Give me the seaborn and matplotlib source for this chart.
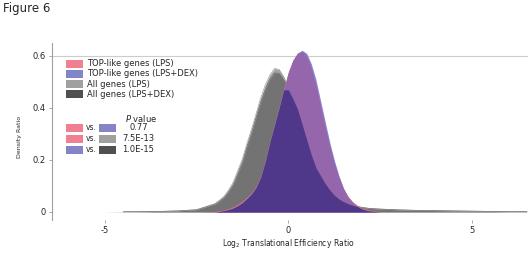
import numpy as np
import pandas as pd
import seaborn as sns
import matplotlib.pyplot as plt
from matplotlib.patches import Rectangle

# density curves (x = log2 TE ratio)
x_ratio = [-6.5, -6.0, -5.5, -5.0, -4.5, -4.0, -3.5, -3.0, -2.5,
           -2.0, -1.875, -1.75, -1.625, -1.5, -1.375, -1.25, -1.125, -1.0,
           -0.875, -0.75, -0.625, -0.5, -0.375, -0.25, -0.125, 0.0,
           0.125, 0.25, 0.375, 0.5, 0.625, 0.75, 0.875, 1.0,
           1.125, 1.25, 1.375, 1.5, 1.625, 1.75, 1.875, 2.0,
           2.125, 2.25, 2.375, 2.5,
           3.0, 3.5, 4.0, 4.5, 5.0, 5.5, 6.0, 6.5]

all_lps = [0, 0, 0, 0, 0.0005, 0.001, 0.002, 0.004, 0.009,
           0.032, 0.045, 0.06, 0.085, 0.115, 0.16, 0.205, 0.265, 0.32,
           0.38, 0.44, 0.49, 0.528, 0.552, 0.548, 0.52, 0.48,
           0.445, 0.405, 0.345, 0.285, 0.225, 0.175, 0.145, 0.115,
           0.088, 0.068, 0.053, 0.042, 0.034, 0.027, 0.022, 0.018,
           0.015, 0.013, 0.012, 0.011,
           0.008, 0.006, 0.005, 0.004, 0.003, 0.002, 0.001, 0.001]

all_dex = [0, 0, 0, 0, 0.0005, 0.001, 0.002, 0.004, 0.008,
           0.03, 0.042, 0.056, 0.078, 0.106, 0.148, 0.192, 0.252, 0.305,
           0.365, 0.425, 0.472, 0.512, 0.535, 0.533, 0.508, 0.47,
           0.435, 0.395, 0.337, 0.278, 0.22, 0.17, 0.14, 0.11,
           0.085, 0.065, 0.05, 0.04, 0.032, 0.026, 0.021, 0.017,
           0.015, 0.013, 0.012, 0.011,
           0.008, 0.006, 0.005, 0.004, 0.003, 0.002, 0.001, 0.001]

top_lps = [0, 0, 0, 0, 0, 0, 0, 0, 0,
           0.002, 0.005, 0.008, 0.013, 0.02, 0.03, 0.042, 0.058, 0.075,
           0.1, 0.14, 0.2, 0.275, 0.34, 0.405, 0.475, 0.54,
           0.585, 0.61, 0.618, 0.6, 0.555, 0.49, 0.41, 0.33,
           0.255, 0.19, 0.135, 0.09, 0.06, 0.04, 0.026, 0.016,
           0.01, 0.006, 0.003, 0.001,
           0, 0, 0, 0, 0, 0, 0, 0]

top_dex = [0, 0, 0, 0, 0, 0, 0, 0, 0,
           0.0, 0.002, 0.005, 0.009, 0.015, 0.024, 0.036, 0.052, 0.07,
           0.095, 0.135, 0.195, 0.27, 0.335, 0.40, 0.47, 0.535,
           0.583, 0.612, 0.622, 0.61, 0.57, 0.51, 0.43, 0.35,
           0.27, 0.2, 0.14, 0.092, 0.058, 0.036, 0.022, 0.012,
           0.006, 0.003, 0.001, 0.0,
           0, 0, 0, 0, 0, 0, 0, 0]

legend_labels = ['TOP-like genes (LPS)', 'TOP-like genes (LPS+DEX)',
                 'All genes (LPS)', 'All genes (LPS+DEX)']
legend_colors = ['#f0808f', '#8484c8', '#a0a0a0', '#505050']
pval_pairs = [(0, 1), (0, 2), (1, 3)]
pval_text = ['0.77', '7.5E-13', '1.0E-15']

sns.set_theme(style='white')
plt.rcParams['font.family'] = ['DejaVu Sans']

W, H = 528, 265
fig = plt.figure(figsize=(W / 100, H / 100), dpi=100)

def fx(px):
    return px / W

def fy(py):
    return 1 - py / H

ax = fig.add_axes([fx(52), fy(220), fx(528) - fx(52), fy(43) - fy(220)])

x = np.array(x_ratio)
g1 = np.array(all_lps)
g2 = np.array(all_dex)
p1 = np.array(top_lps)
p2 = np.array(top_dex)
purple = np.minimum(p1, p2)
indigo = np.minimum(purple, g2)

ax.fill_between(x, 0, g1, color='#a2a2a2', lw=0, zorder=1)
ax.fill_between(x, 0, g2, color='#737373', lw=0, zorder=1.1)

df = pd.DataFrame({'ratio': np.concatenate([x, x]),
                   'density': np.concatenate([g1, g2]),
                   'group': ['All genes (LPS)'] * len(x) + ['All genes (LPS+DEX)'] * len(x)})
df = df[df.density > 0]
sns.lineplot(data=df, x='ratio', y='density', hue='group',
             palette=['#a2a2a2', '#737373'], legend=False, lw=0.5,
             ax=ax, zorder=1.2)

ax.fill_between(x, 0, p1, color='#d8727e', lw=0, zorder=2)
ax.fill_between(x, 0, p2, color='#8a88d0', lw=0, zorder=2.1)
ax.fill_between(x, 0, purple, color='#9566ab', lw=0, zorder=2.2)
ax.fill_between(x, 0, indigo, color='#4f3889', lw=0, zorder=2.3)

ax.axhline(0.6, color='#cccccc', lw=0.8, zorder=0)

ax.set_xlim(-6.44, 6.53)
ax.set_ylim(-0.031, 0.65)
ax.set_xticks([-5, 0, 5])
ax.set_xticklabels(['-5', '0', '5'])
ax.set_yticks([0, 0.2, 0.4, 0.6])
ax.set_yticklabels(['0', '0.2', '0.4', '0.6'])
ax.tick_params(axis='both', labelsize=6, length=2.5, width=0.6,
               color='#999999', pad=2, bottom=True, left=True)
ax.set_xlabel('')
ax.set_ylabel('')
for s in ['top', 'right', 'bottom']:
    ax.spines[s].set_visible(False)
ax.spines['left'].set_color('#a0a0a0')
ax.spines['left'].set_linewidth(0.8)

fig.text(fx(288), fy(243), 'Log$_2$ Translational Efficiency Ratio',
         fontsize=5.5, ha='center', va='center')
fig.text(fx(20), fy(137), 'Density Ratio', fontsize=4.5, rotation=90,
         ha='center', va='center')
fig.text(fx(3), fy(2), 'Figure 6', fontsize=8.5, va='top', ha='left')

# legend block
def swatch(px, py, color):
    fig.add_artist(Rectangle((fx(px), fy(py + 4)), 17 / W, 8 / H,
                             transform=fig.transFigure, color=color, lw=0))

for i, (lab, c) in enumerate(zip(legend_labels, legend_colors)):
    yy = [64, 74, 84.3, 94.3][i]
    swatch(66, yy, c)
    fig.text(fx(87), fy(yy), lab, fontsize=6, va='center', ha='left')

fig.text(fx(141), fy(118), '$P$ value', fontsize=6, va='center', ha='center')
for (a, b), t, yy in zip(pval_pairs, pval_text, [127.7, 138.5, 150]):
    swatch(66, yy, legend_colors[a])
    fig.text(fx(86), fy(yy), 'vs.', fontsize=5.5, va='center', ha='left')
    swatch(99, yy, legend_colors[b])
    fig.text(fx(138.5), fy(yy), t, fontsize=6, va='center', ha='center')

fig.savefig('out.png', dpi=100)
